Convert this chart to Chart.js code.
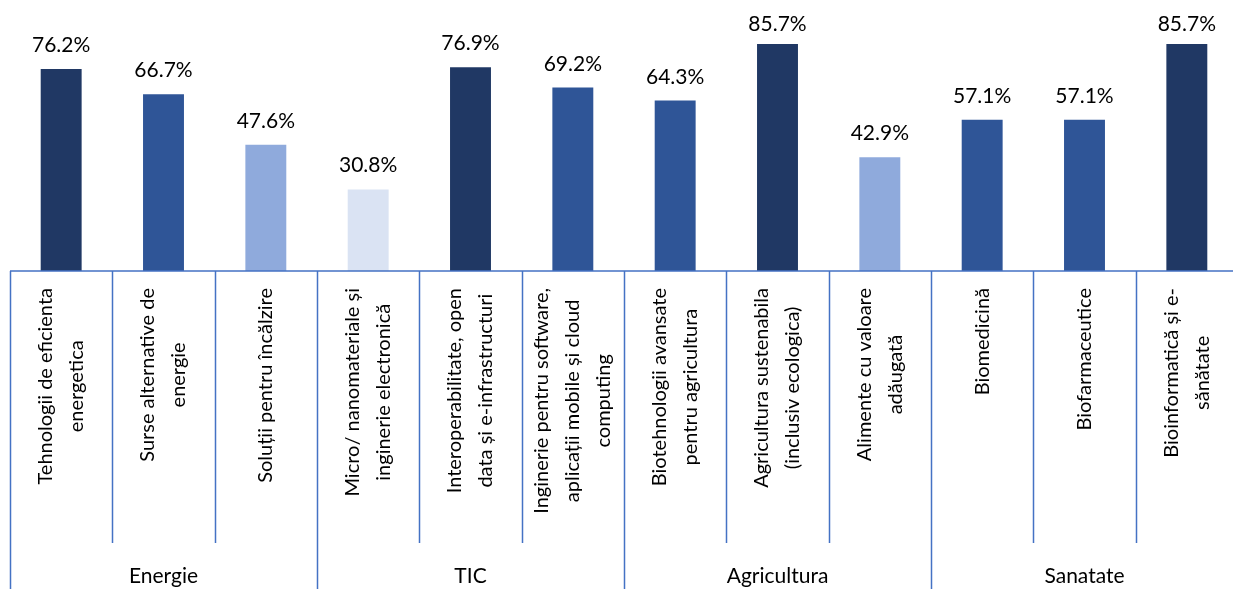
<!DOCTYPE html>
<html lang="ro">
<head>
<meta charset="utf-8">
<title>Domenii de specializare</title>
<script src="https://cdn.jsdelivr.net/npm/chart.js@4/dist/chart.umd.min.js"></script>
<style>
  html, body { margin: 0; padding: 0; background: #fff; overflow: hidden; }
  .chart-wrap { position: relative; width: 1243px; height: 589px; }
</style>
</head>
<body>
<div class="chart-wrap"><canvas id="bars"></canvas></div>
<script>
// sub-domain labels, one array of lines per bar
const categories = [
  ['Tehnologii de eficienta', 'energetica'],
  ['Surse alternative de', 'energie'],
  ['Soluții pentru încălzire'],
  ['Micro/ nanomateriale și', 'inginerie electronică'],
  ['Interoperabilitate, open', 'data și e-infrastructuri'],
  ['Inginerie pentru software,', 'aplicații mobile și cloud', 'computing'],
  ['Biotehnologii avansate', 'pentru agricultura'],
  ['Agricultura sustenabila', '(inclusiv ecologica)'],
  ['Alimente cu valoare', 'adăugată'],
  ['Biomedicină'],
  ['Biofarmaceutice'],
  ['Bioinformatică și e-', 'sănătate']
];
const values = [76.2, 66.7, 47.6, 30.8, 76.9, 69.2, 64.3, 85.7, 42.9, 57.1, 57.1, 85.7];
const groups = ['Energie', 'TIC', 'Agricultura', 'Sanatate'];
const groupSizes = [3, 3, 3, 3];

const DARK = '#203864', MID = '#2F5597', LIGHT = '#8FAADC', PALE = '#DAE3F3';
const barColors = [DARK, MID, LIGHT, PALE, DARK, MID, MID, DARK, LIGHT, MID, MID, DARK];

const AXIS = '#4472C4';
const FONT = '21px Lato';
const LABEL_FONT = '20px Lato';
const TEXT = '#000';

// category axis drawn by hand: rotated labels, separators, group row
const categoryAxis = {
  id: 'categoryAxis',
  afterDraw(chart) {
    const { ctx, chartArea: area, scales: { x } } = chart;
    const H = chart.height;
    ctx.save();

    // value labels above bars
    ctx.font = FONT;
    ctx.fillStyle = TEXT;
    ctx.textAlign = 'center';
    ctx.textBaseline = 'alphabetic';
    chart.getDatasetMeta(0).data.forEach((bar, i) => {
      const y = Math.max(bar.y - 17, 31);
      ctx.fillText(values[i].toFixed(1) + '%', bar.x, y);
    });

    // axis line and separators
    ctx.strokeStyle = AXIS;
    ctx.lineWidth = 1.5;
    ctx.beginPath();
    ctx.moveTo(area.left, area.bottom);
    ctx.lineTo(area.right, area.bottom);
    let groupEdges = [0];
    groupSizes.reduce((acc, n) => { groupEdges.push(acc + n); return acc + n; }, 0);
    for (let b = 0; b <= categories.length; b++) {
      const px = Math.round(x.getPixelForValue(b - 0.5)) + 0.5;
      ctx.moveTo(px, area.bottom);
      ctx.lineTo(px, groupEdges.includes(b) ? H : 543);
    }
    ctx.stroke();

    // rotated category labels
    ctx.font = LABEL_FONT;
    const lineH = 31;
    categories.forEach((lines, i) => {
      const cx = x.getPixelForValue(i);
      const w = Math.max(...lines.map(l => ctx.measureText(l).width));
      const cy = area.bottom + 17 + w / 2;
      ctx.save();
      ctx.translate(cx, cy);
      ctx.rotate(-Math.PI / 2);
      ctx.textAlign = 'center';
      ctx.textBaseline = 'middle';
      lines.forEach((l, k) => {
        ctx.fillText(l, 0, (k - (lines.length - 1) / 2) * lineH);
      });
      ctx.restore();
    });

    // group names
    ctx.font = FONT;
    let start = 0;
    groups.forEach((g, gi) => {
      const end = start + groupSizes[gi] - 1;
      const gx = (x.getPixelForValue(start) + x.getPixelForValue(end)) / 2;
      ctx.fillText(g, gx, 583);
      start = end + 1;
    });

    ctx.restore();
  }
};

new Chart(document.getElementById('bars'), {
  type: 'bar',
  data: {
    labels: categories.map(c => c.join(' ')),
    datasets: [{
      data: values,
      backgroundColor: barColors,
      barPercentage: 0.4,
      categoryPercentage: 1.0
    }]
  },
  options: {
    responsive: true,
    maintainAspectRatio: false,
    animation: false,
    layout: { padding: { left: 10, right: 5, top: 6, bottom: 0 } },
    plugins: { legend: { display: false }, tooltip: { enabled: false } },
    scales: {
      x: {
        ticks: { display: false },
        grid: { display: false },
        border: { display: false },
        afterFit: s => { s.height = 318; }
      },
      y: { display: false, min: 0, max: 100 }
    }
  },
  plugins: [categoryAxis]
});
</script>
</body>
</html>
